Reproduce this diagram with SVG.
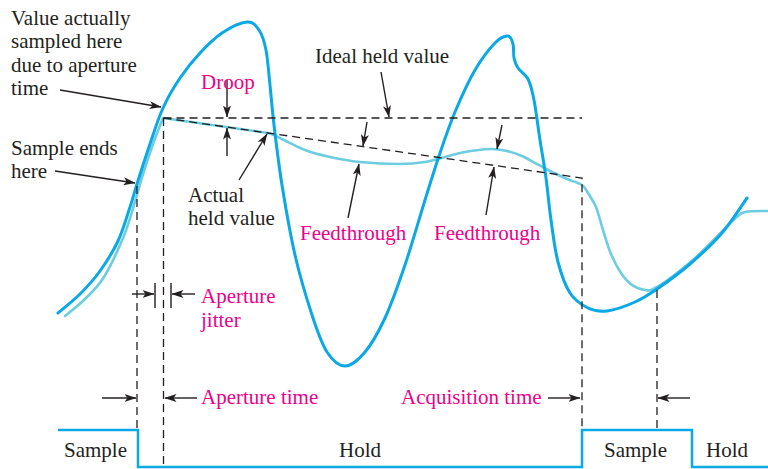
<svg xmlns="http://www.w3.org/2000/svg" width="768" height="469" viewBox="0 0 768 469">
<defs>
<style>
.t{font-family:"Liberation Serif","Times New Roman",serif;font-size:21px;fill:#231f20}
.m{font-family:"Liberation Serif","Times New Roman",serif;font-size:21px;fill:#ec008c}
.dash{fill:none;stroke:#231f20;stroke-width:1.3;stroke-dasharray:8,5}
.arr{fill:none;stroke:#231f20;stroke-width:1.4;marker-end:url(#ah)}
.tick{fill:none;stroke:#231f20;stroke-width:1.4}
.sig{fill:none;stroke:#0aa8e4;stroke-width:3;stroke-linejoin:round;stroke-linecap:round}
.out{fill:none;stroke:#6dcde0;stroke-width:2.6;stroke-linejoin:round;stroke-linecap:round}
.clk{fill:none;stroke:#0aa8e4;stroke-width:2.5}
</style>
<marker id="ah" viewBox="0 0 12 8" refX="11.5" refY="4" markerWidth="12" markerHeight="8" markerUnits="userSpaceOnUse" orient="auto">
<path d="M0,0 L12,4 L0,8 L3,4 z" fill="#231f20"/>
</marker>
</defs>
<rect width="768" height="469" fill="#ffffff"/>

<g id="output-signal">
<path class="out" d="M65,316 C68.3,313.2 78.5,305.5 85,299 C91.5,292.5 97.7,287.2 104,277 C110.3,266.8 118,250 123,238 C128,226 130.7,215.7 134,205 C137.3,194.3 139.8,184.2 143,174 C146.2,163.8 149.7,153.3 153,144 C156.3,134.7 161.3,122.3 163,118 L268,133 C272,133.6 277.8,137.2 284,140 C290.2,142.8 297.3,147.2 305,150 C312.7,152.8 320.8,155 330,157 C339.2,159 348.3,160.8 360,162 C371.7,163.2 389.2,164 400,164 C410.8,164 417.5,163.2 425,162 C432.5,160.8 438.3,158.7 445,157 C451.7,155.3 457.5,153.3 465,152 C472.5,150.7 483,149.2 490,149 C497,148.8 501.7,149.8 507,151 C512.3,152.2 517,153.8 522,156 C527,158.2 532,161.5 537,164 C542,166.5 547,169.5 552,172 C557,174.5 562,176.8 567,179 C572,181.2 578.5,182.7 582,185 C585.5,187.3 585.7,189.3 588,193 C590.3,196.7 593.5,200.8 596,207 C598.5,213.2 600.5,222.2 603,230 C605.5,237.8 608,246.8 611,254 C614,261.2 617.5,267.8 621,273 C624.5,278.2 628,282.2 632,285 C636,287.8 640.8,289.5 645,290 C649.2,290.5 649.5,291.2 657,287 C664.5,282.8 679.5,271.2 690,262.5 C700.5,253.8 712.5,241.2 720,233.5 C727.5,225.8 730.8,222 735,218.5 C739.2,215 739.5,213.3 745,212 C750.5,210.7 764.2,211.2 768,211"/>
</g>

<g id="input-signal">
<path class="sig" d="M58,313 C61.7,309.8 73,301 80,294 C87,287 93.7,279.8 100,271 C106.3,262.2 113,251.7 118,241 C123,230.3 126.8,216.5 130,207 C133.2,197.5 133.7,194.5 137,184 C140.3,173.5 145.7,156.7 150,144 C154.3,131.3 158,119 163,108 C168,97 173.8,87.2 180,78 C186.2,68.8 193,60.5 200,53 C207,45.5 214.2,38.2 222,33 C229.8,27.8 240.8,22.5 247,22 C253.2,21.5 255.8,25.3 259,30 C262.2,34.7 264.2,40.8 266,50 C267.8,59.2 268.7,72.5 270,85 C271.3,97.5 272,108.3 274,125 C276,141.7 278.5,163.3 282,185 C285.5,206.7 290,233.3 295,255 C300,276.7 306.7,298.8 312,315 C317.3,331.2 321.5,343.5 327,352 C332.5,360.5 338.7,366 345,366 C351.3,366 358.3,360 365,352 C371.7,344 378.3,332.5 385,318 C391.7,303.5 398.3,284.7 405,265 C411.7,245.3 419.2,218.7 425,200 C430.8,181.3 435,167.7 440,153 C445,138.3 449.2,125.8 455,112 C460.8,98.2 468.3,81.5 475,70 C481.7,58.5 489.5,48.7 495,43 C500.5,37.3 505,35.8 508,36 C511,36.2 512,40.3 513,44 C514,47.7 513.2,54 514,58 C514.8,62 515.7,64.5 518,68 C520.3,71.5 525.3,73.7 528,79 C530.7,84.3 532,89.8 534,100 C536,110.2 538,127 540,140 C542,153 544.2,164.7 546,178 C547.8,191.3 549,206 551,220 C553,234 554.8,249.8 558,262 C561.2,274.2 565,285.3 570,293 C575,300.7 581.8,305 588,308 C594.2,311 599.2,312 607,311 C614.8,310 626.7,305.7 635,302 C643.3,298.3 647.8,295.3 657,289 C666.2,282.7 679.2,273.3 690,264 C700.8,254.7 712.5,244 722,233 C731.5,222 742.8,203.8 747,198"/>
</g>

<g id="control-signal">
<path class="clk" d="M58,430 H138 V467 H582 V430 H692 V467 H768"/>
</g>

<g id="guides">
<path class="dash" d="M137,186 V430"/>
<path class="dash" d="M163.5,118 V467"/>
<path class="dash" d="M163.5,118 H582"/>
<path class="dash" d="M163.5,118 L582,178 V430"/>
<path class="dash" d="M657,290 V430"/>
</g>

<g id="connectors">
<path class="arr" d="M60,90 L161,107"/>
<path class="arr" d="M55,171 L135,183"/>
<path class="arr" d="M227,80 L227,117"/>
<path class="arr" d="M227,156 L227,128"/>
<path class="arr" d="M239,180 L267,134"/>
<path class="arr" d="M381,72 L389,117"/>
<path class="arr" d="M367,122 L363,146"/>
<path class="arr" d="M348,218 L359,164"/>
<path class="arr" d="M502,125 L497,149"/>
<path class="arr" d="M486,215 L494,167"/>
<path class="arr" d="M132,294 L154,294"/>
<path class="arr" d="M195,294 L172,294"/>
<path class="tick" d="M155,283 V308 M171,283 V308"/>
<path class="arr" d="M102,398 L136,398"/>
<path class="arr" d="M197,398 L165,398"/>
<path class="arr" d="M548,398 L580,398"/>
<path class="arr" d="M690,398 L658,398"/>
</g>

<g id="label-value-sampled">
<text class="t" x="11" y="25">Value actually</text>
<text class="t" x="11" y="48">sampled here</text>
<text class="t" x="11" y="72">due to aperture</text>
<text class="t" x="11" y="95">time</text>
</g>
<g id="label-sample-ends">
<text class="t" x="11" y="155">Sample ends</text>
<text class="t" x="11" y="178">here</text>
</g>
<g id="label-droop"><text class="m" x="201" y="89">Droop</text></g>
<g id="label-actual-held">
<text class="t" x="188" y="202">Actual</text>
<text class="t" x="188" y="225">held value</text>
</g>
<g id="label-ideal-held"><text class="t" x="315" y="63">Ideal held value</text></g>
<g id="label-feedthrough-1"><text class="m" x="300" y="240">Feedthrough</text></g>
<g id="label-feedthrough-2"><text class="m" x="434" y="240">Feedthrough</text></g>
<g id="label-aperture-jitter">
<text class="m" x="201" y="303">Aperture</text>
<text class="m" x="201" y="327">jitter</text>
</g>
<g id="label-aperture-time"><text class="m" x="201" y="404">Aperture time</text></g>
<g id="label-acquisition-time"><text class="m" x="401" y="404">Acquisition time</text></g>
<g id="label-sample-1"><text class="t" x="64" y="457">Sample</text></g>
<g id="label-hold-1"><text class="t" x="360" y="457" text-anchor="middle">Hold</text></g>
<g id="label-sample-2"><text class="t" x="604" y="457">Sample</text></g>
<g id="label-hold-2"><text class="t" x="706" y="457">Hold</text></g>
</svg>
